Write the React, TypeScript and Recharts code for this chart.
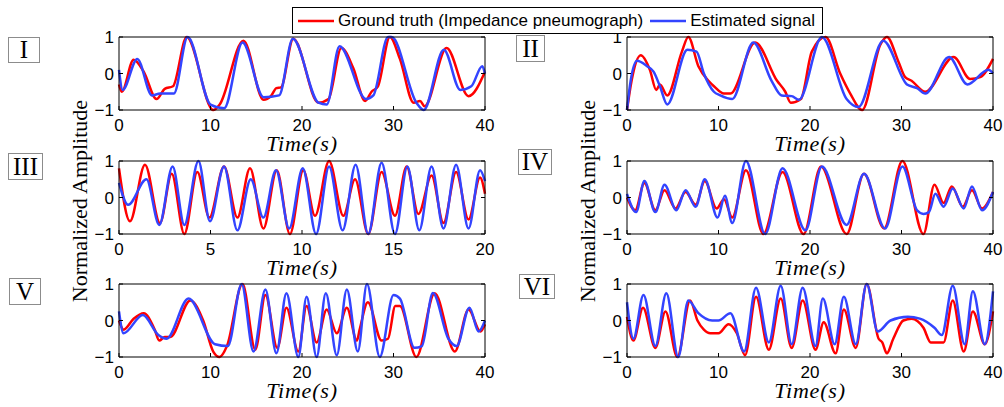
import { LineChart, Line, XAxis, YAxis } from "recharts";

type Pt = [number, number];

// [time (s), normalized amplitude]
const truthI: Pt[] = [
  [0, -0.3], [0.3, -0.5], [1.6, 0.38], [2.7, 0.05], [4.1, -0.7], [5.0, -0.42], [5.9, -0.35],
  [7.4, 1.0], [10.3, -1.0], [11.0, -0.85], [13.6, 0.9], [15.8, -0.72], [16.6, -0.62], [17.2, -0.4],
  [17.7, -0.38], [19.05, 0.95], [21.8, -0.8], [22.9, -0.7], [24.3, 0.7], [25.6, 0.15], [26.9, -0.75],
  [27.6, -0.5], [28.3, -0.35], [29.6, 1.0], [30.7, 0.4], [32.2, -0.8], [32.9, -0.75], [33.4, -0.9],
  [35.8, 0.7], [38.2, -0.62], [40, 0.05],
];
const estI: Pt[] = [
  [0, 0.1], [0.4, -0.45], [2.0, 0.4], [3.6, -0.6], [4.5, -0.55], [6.0, -0.55], [7.5, 1.0],
  [10.0, -0.85], [11.5, -0.95], [13.5, 0.85], [15.8, -0.65], [17.5, -0.6], [19.0, 0.95],
  [21.8, -0.8], [22.7, -0.85], [24.1, 0.75], [27.0, -0.7], [27.8, -0.6], [29.4, 1.0], [29.8, 1.0],
  [32.5, -0.8], [33.3, -1.0], [35.5, 0.65], [37.3, -0.45], [38.5, -0.35], [39.7, 0.2], [40, 0.0],
];

const truthII: Pt[] = [
  [0, -1.0], [0.5, -0.2], [1.5, 0.5], [2.5, 0.1], [3.2, -0.45], [3.6, -0.3], [4.4, -0.6],
  [6.0, 0.6], [6.7, 1.0], [7.8, 0.2], [8.9, -0.2], [9.5, -0.35], [10.6, -0.55], [11.3, -0.55],
  [14.0, 0.85], [16.4, -0.2], [17.3, -0.5], [17.9, -0.8], [19.0, -0.7], [20.2, 0.6], [21.7, 1.0],
  [23.3, 0.0], [24.4, -0.55], [25.7, -1.0], [27.7, 0.8], [28.4, 1.0], [29.7, 0.3], [30.4, -0.1],
  [31.1, -0.2], [32.6, -0.5], [35.7, 0.45], [37.5, -0.15], [38.6, -0.1], [40, 0.4],
];
const estII: Pt[] = [
  [0, -1.0], [0.4, -0.2], [1.1, 0.35], [2.2, 0.2], [2.9, 0.05], [3.6, -0.35], [4.4, -0.85],
  [6.6, 0.65], [7.6, 0.6], [8.4, 0.0], [9.5, -0.5], [10.2, -0.6], [11.5, -0.7], [13.8, 0.85],
  [15.8, -0.2], [16.9, -0.6], [18.0, -0.62], [18.8, -0.72], [21.3, 1.0], [24.0, -0.7],
  [25.3, -0.92], [28.0, 0.9], [30.6, -0.3], [31.7, -0.4], [32.6, -0.55], [35.2, 0.45],
  [37.2, -0.3], [39.5, 0.1], [40, 0.0],
];

const truthIII: Pt[] = [
  [0, 0.8], [0.6, -0.65], [1.42, 0.9], [2.24, -0.7], [2.88, 0.65], [3.57, -1.0], [4.28, 0.7],
  [4.94, -0.55], [5.74, 0.85], [6.47, -0.55], [7.16, 0.8], [7.89, -0.85], [8.62, 0.75],
  [9.34, -1.0], [10.07, 0.75], [10.71, -0.5], [11.48, 1.0], [12.26, -0.5], [12.9, 0.5],
  [13.62, -1.0], [14.35, 0.7], [15.08, -0.5], [15.72, 0.85], [16.36, -0.45], [17.08, 0.6],
  [17.73, -0.7], [18.42, 0.7], [19.1, -0.6], [19.73, 0.55], [20, 0.1],
];
const estIII: Pt[] = [
  [0, 0.4], [0.5, -0.2], [1.5, 0.5], [2.2, -0.75], [2.93, 0.85], [3.57, -0.75], [4.34, 1.0],
  [4.97, -0.65], [5.74, 0.85], [6.47, -0.9], [7.2, 0.5], [7.89, -0.55], [8.58, 0.75],
  [9.3, -0.85], [10.04, 0.8], [10.77, -1.0], [11.48, 0.85], [12.22, -0.9], [12.93, 0.9],
  [13.62, -1.0], [14.35, 0.95], [15.08, -1.0], [15.76, 0.85], [16.41, -0.9], [17.08, 0.85],
  [17.73, -0.85], [18.42, 0.9], [19.1, -0.85], [19.73, 0.75], [20, 0.45],
];

const truthIV: Pt[] = [
  [0, 0.0], [0.9, -0.35], [1.9, 0.4], [3.1, -0.35], [4.1, 0.2], [5.3, -0.3], [6.4, 0.15],
  [7.5, -0.2], [8.5, 0.45], [9.8, -0.3], [10.6, -0.05], [11.5, -0.55], [13.0, 0.75],
  [14.9, -1.0], [17.0, 0.7], [19.3, -1.0], [21.2, 0.85], [24.0, -1.0], [25.9, 0.65],
  [28.1, -0.85], [30.1, 1.0], [32.4, -1.0], [33.6, 0.35], [34.6, -0.15], [35.5, 0.3],
  [36.7, -0.25], [37.7, 0.2], [38.8, -0.3], [40, 0.15],
];
const estIV: Pt[] = [
  [0, 0.1], [1.0, -0.4], [1.9, 0.45], [3.1, -0.4], [4.1, 0.35], [5.4, -0.35], [6.4, 0.2],
  [7.5, -0.25], [8.5, 0.5], [9.9, -0.55], [10.7, 0.05], [11.5, -0.7], [13.0, 1.0],
  [15.1, -1.0], [17.0, 0.8], [19.5, -0.9], [21.3, 0.85], [24.0, -0.75], [25.9, 0.65],
  [28.2, -0.85], [30.1, 0.85], [31.7, -0.35], [32.4, -0.45], [33.0, -0.4], [33.7, 0.1],
  [34.6, -0.25], [35.6, 0.25], [36.8, -0.3], [37.7, 0.3], [38.8, -0.35], [40, 0.15],
];

const truthV: Pt[] = [
  [0, 0.0], [0.5, -0.25], [1.6, 0.05], [2.7, 0.2], [3.9, -0.25], [4.4, -0.55], [5.0, -0.45],
  [5.6, -0.45], [7.8, 0.55], [9.2, 0.0], [10.3, -0.85], [11.0, -1.0], [11.8, -0.7], [13.5, 1.0],
  [14.9, -0.8], [16.0, 0.7], [17.3, -0.75], [18.3, 0.35], [19.6, -0.85], [20.5, 0.4],
  [21.6, -0.6], [22.7, 0.3], [23.8, -0.35], [24.9, 0.35], [26.0, -0.55], [26.3, -0.25],
  [27.2, 0.5], [28.7, -0.55], [29.4, -0.5], [30.2, 0.4], [30.7, 0.4], [32.5, -1.0],
  [34.5, 0.75], [36.7, -0.85], [38.2, 0.3], [39.5, -0.3], [40, -0.1],
];
const estV: Pt[] = [
  [0, 0.25], [0.5, -0.35], [2.6, 0.15], [4.3, -0.4], [5.2, -0.5], [7.6, 0.6], [10.5, -0.65],
  [11.9, -0.7], [13.4, 1.0], [14.7, -0.85], [16.0, 0.85], [17.2, -0.9], [18.3, 0.75],
  [19.6, -1.0], [20.5, 0.65], [21.6, -1.0], [22.6, 0.75], [23.8, -0.95], [24.9, 0.85],
  [26.1, -0.85], [27.1, 1.0], [28.5, -1.0], [30.0, 0.7], [30.7, 0.6], [32.3, -0.75],
  [33.1, -0.7], [34.3, 0.75], [36.0, -0.5], [36.9, -0.7], [38.3, 0.35], [39.3, -0.3], [40, 0.0],
];

const truthVI: Pt[] = [
  [0, 0.1], [0.7, -0.55], [1.75, 0.35], [3.1, -0.75], [4.2, 0.25], [5.5, -1.0], [6.9, 0.55],
  [7.7, 0.0], [8.4, -0.25], [9.1, -0.35], [10.0, -0.35], [11.1, -0.1], [12.0, -0.35],
  [12.9, -0.95], [14.1, 0.65], [15.5, -0.8], [16.8, 0.6], [18.0, -0.75], [19.2, 0.55],
  [20.6, -0.8], [21.5, -0.05], [22.8, -0.9], [23.7, 0.3], [25.0, -0.75], [26.2, 1.0],
  [27.5, -0.5], [27.9, -0.6], [28.4, -0.9], [29.1, -0.5], [30.2, 0.0], [31.1, 0.05],
  [32.4, -0.2], [33.2, -0.6], [34.6, -0.6], [35.6, 0.55], [36.8, -0.85], [37.8, 0.25],
  [39.1, -0.65], [40, 0.25],
];
const estVI: Pt[] = [
  [0, 0.5], [0.7, -0.5], [1.8, 0.7], [3.1, -0.7], [4.3, 0.75], [5.6, -1.0], [6.7, 0.55],
  [7.8, 0.2], [9.3, 0.0], [10.0, 0.0], [11.3, 0.2], [12.8, -0.85], [14.1, 0.9], [15.5, -0.6],
  [16.8, 0.95], [18.0, -0.65], [19.2, 0.9], [20.6, -0.7], [21.4, 0.6], [22.7, -0.65],
  [23.7, 0.65], [25.0, -0.65], [26.2, 1.0], [27.4, -0.3], [28.8, 0.0], [30.7, 0.1],
  [32.0, 0.05], [33.6, -0.2], [34.4, -0.4], [35.6, 0.95], [36.9, -0.65], [37.8, 0.8],
  [39.1, -0.65], [40, 0.8],
];

const ticks40 = [0, 10, 20, 30, 40];
const ticks20 = [0, 5, 10, 15, 20];
const ampTicks = [-1, 0, 1];

const RED = "#ff0000";
const BLUE = "#3344ff";
const sans = "'Liberation Sans', Arial, sans-serif";
const serif = "'Liberation Serif', 'Times New Roman', serif";

const toRows = (pts: Pt[]) => pts.map(([t, v]) => ({ t, v }));
const fmtAmp = (v: number) => (v < 0 ? `\u2212${-v}` : `${v}`);
const blank = () => "";

const tickStyle = { fontSize: 17, fill: "#000", fontFamily: sans };
const axisLine = { stroke: "#000" };

// plot box is 366x73; chart extends around it to leave room for labels
function Panel({ left, top, truth, est, xMax, xTicks }: {
  left: number; top: number; truth: Pt[]; est: Pt[]; xMax: number; xTicks: number[];
}) {
  return (
    <div style={{ position: "absolute", left: left - 40, top: top - 12 }}>
      <LineChart width={421} height={130} margin={{ top: 11, right: 14, left: 0, bottom: 4 }}>
        <XAxis
          xAxisId="b" dataKey="t" type="number" domain={[0, xMax]} ticks={xTicks} interval={0}
          height={41} tickSize={-4} tickMargin={13} tick={tickStyle} axisLine={axisLine}
          tickLine={axisLine}
          label={{
            value: "Time(s)", position: "insideBottom", offset: 0, fontFamily: serif,
            fontStyle: "italic", fontSize: 22, fill: "#000", letterSpacing: 0.8,
          }}
        />
        <XAxis
          xAxisId="top" orientation="top" type="number" domain={[0, xMax]} ticks={xTicks}
          interval={0} allowDataOverflow height={1} tickSize={-4} tickFormatter={blank}
          axisLine={axisLine} tickLine={axisLine}
        />
        <YAxis
          yAxisId="l" type="number" domain={[-1, 1]} ticks={ampTicks} interval={0} width={40}
          tickSize={-4} tickMargin={9} tick={tickStyle} tickFormatter={fmtAmp}
          axisLine={axisLine} tickLine={axisLine}
        />
        <YAxis
          yAxisId="r" orientation="right" type="number" domain={[-1, 1]} ticks={ampTicks}
          interval={0} allowDataOverflow width={1} tickSize={-4} tickFormatter={blank}
          axisLine={axisLine} tickLine={axisLine}
        />
        <Line
          xAxisId="b" yAxisId="l" data={toRows(truth)} dataKey="v" type="monotone"
          stroke={RED} strokeWidth={2.5} dot={false} isAnimationActive={false}
        />
        <Line
          xAxisId="b" yAxisId="l" data={toRows(est)} dataKey="v" type="monotone"
          stroke={BLUE} strokeWidth={2.5} dot={false} isAnimationActive={false}
        />
      </LineChart>
    </div>
  );
}

function Tag({ text, left, top, width, height }: {
  text: string; left: number; top: number; width: number; height: number;
}) {
  return (
    <div
      style={{
        position: "absolute", left, top, width, height, boxSizing: "border-box",
        border: "1px solid #8c8c8c", background: "#fff", fontFamily: serif, fontSize: 25,
        lineHeight: `${height - 2}px`, textAlign: "center", color: "#000",
      }}
    >
      {text}
    </div>
  );
}

function AmpLabel({ cx, cy }: { cx: number; cy: number }) {
  return (
    <div
      style={{
        position: "absolute", left: cx - 120, top: cy - 14, width: 240, height: 28,
        lineHeight: "28px", textAlign: "center", transform: "rotate(-90deg)",
        fontFamily: serif, fontSize: 22, color: "#000", whiteSpace: "nowrap",
      }}
    >
      Normalized Amplitude
    </div>
  );
}

function LegendSample({ color }: { color: string }) {
  return (
    <svg width={36} height={4} style={{ display: "block" }}>
      <line x1={0} y1={2} x2={36} y2={2} stroke={color} strokeWidth={2.5} />
    </svg>
  );
}

export default function App() {
  return (
    <div style={{ position: "absolute", left: 0, top: 0, width: 1004, height: 407, background: "#fff", overflow: "hidden" }}>
      <Panel left={119} top={37} truth={truthI} est={estI} xMax={40} xTicks={ticks40} />
      <Panel left={627} top={37} truth={truthII} est={estII} xMax={40} xTicks={ticks40} />
      <Panel left={119} top={161} truth={truthIII} est={estIII} xMax={20} xTicks={ticks20} />
      <Panel left={627} top={161} truth={truthIV} est={estIV} xMax={40} xTicks={ticks40} />
      <Panel left={119} top={284} truth={truthV} est={estV} xMax={40} xTicks={ticks40} />
      <Panel left={627} top={284} truth={truthVI} est={estVI} xMax={40} xTicks={ticks40} />

      <AmpLabel cx={80} cy={201} />
      <AmpLabel cx={588} cy={201} />

      <Tag text="I" left={8} top={37} width={32} height={26} />
      <Tag text="II" left={516} top={35} width={29} height={27} />
      <Tag text="III" left={8} top={153} width={35} height={27} />
      <Tag text="IV" left={518} top={149} width={34} height={26} />
      <Tag text="V" left={9} top={278} width={32} height={27} />
      <Tag text="VI" left={519} top={274} width={36} height={25} />

      <div
        style={{
          position: "absolute", left: 292, top: 7, width: 531, height: 27, boxSizing: "border-box",
          border: "1px solid #000", background: "#fff", display: "flex", alignItems: "center",
          paddingLeft: 5, fontFamily: sans, fontSize: 17, color: "#000", whiteSpace: "nowrap",
        }}
      >
        <LegendSample color={RED} />
        <span style={{ marginLeft: 4 }}>Ground truth (Impedance pneumograph)</span>
        <span style={{ marginLeft: 7 }}><LegendSample color={BLUE} /></span>
        <span style={{ marginLeft: 4 }}>Estimated signal</span>
      </div>
    </div>
  );
}
